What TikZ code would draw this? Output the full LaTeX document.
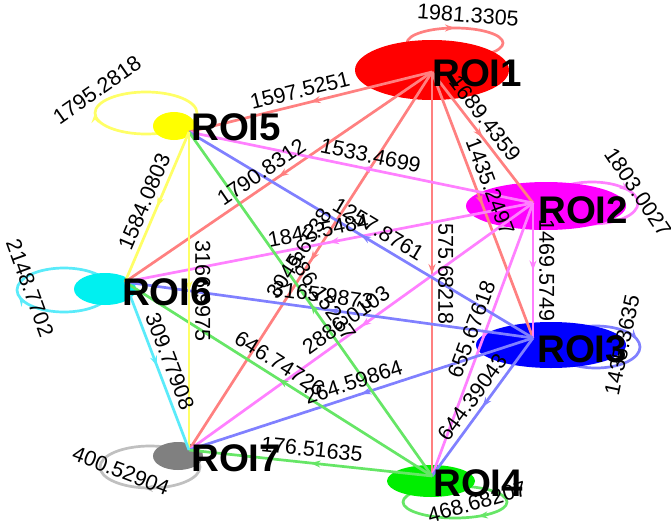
\documentclass[tikz,border=0pt]{standalone}
\usepackage{fontspec}
\setmainfont{Liberation Sans}
\usetikzlibrary{arrows.meta,decorations.markings,shapes.geometric}
\definecolor{nR}{RGB}{255,0,0}
\definecolor{nM}{RGB}{255,0,255}
\definecolor{nB}{RGB}{0,0,255}
\definecolor{nG}{RGB}{0,238,0}
\definecolor{nY}{RGB}{255,255,0}
\definecolor{nC}{RGB}{0,240,240}
\definecolor{nK}{RGB}{128,128,128}
\definecolor{eR}{RGB}{255,128,128}
\definecolor{eM}{RGB}{255,128,255}
\definecolor{eB}{RGB}{128,128,255}
\definecolor{eG}{RGB}{102,230,102}
\definecolor{eY}{RGB}{255,255,102}
\definecolor{eC}{RGB}{90,235,250}
\definecolor{eK}{RGB}{192,192,192}
\begin{document}
\begin{tikzpicture}[x=1pt,y=-1pt,
  edge/.style={draw=#1, line width=2.7pt, postaction={decorate},
    decoration={markings, mark=at position 0.5 with {\arrow{Stealth[length=10pt,width=7pt,color=#1]}}}},
  selfloop/.style 2 args={draw=#1, line width=2.7pt, postaction={decorate},
    decoration={markings, mark=at position #2 with {\arrow{Stealth[length=10pt,width=7pt,color=#1]}}}},
  blob/.style={ellipse, draw=none, fill=#1, inner sep=0pt},
  num/.style={font=\fontsize{21.5}{23}\selectfont, inner sep=1pt},
  elab/.style={num, sloped, above=5pt},
  roi/.style={font=\fontsize{38.5}{40}\selectfont\bfseries, anchor=west, inner sep=0pt}]
\fill[white] (0,0) rectangle (671,524);
\useasboundingbox (0,0) rectangle (671,524);
% self loops
\draw[selfloop={eR}{0.75}] (455,43) ellipse [x radius=48, y radius=15];
\draw[selfloop={eM}{0.93}] (592,203) ellipse [x radius=46, y radius=21];
\draw[selfloop={eB}{0.96}] (596,347) ellipse [x radius=44, y radius=21];
\draw[selfloop={eG}{0.15}] (455,502) ellipse [x radius=52, y radius=16];
\draw[selfloop={eY}{0.5}] (146,113) ellipse [x radius=51, y radius=21];
\draw[selfloop={eC}{0.47}] (64,290) ellipse [x radius=47, y radius=22];
\draw[selfloop={eK}{0.28}] (150,467) ellipse [x radius=50, y radius=21];
% node ellipses
\node[blob=nR, minimum width=154pt, minimum height=60pt] (e1) at (432,70) {};
\node[blob=nM, minimum width=160pt, minimum height=48pt] (e2) at (546,206) {};
\node[blob=nB, minimum width=150pt, minimum height=46pt] (e3) at (551,345) {};
\node[blob=nG, minimum width=88pt, minimum height=32pt] (e4) at (431,481) {};
\node[blob=nY, minimum width=42pt, minimum height=28pt] (e5) at (174,126) {};
\node[blob=nC, minimum width=62pt, minimum height=32pt] (e6) at (105,289) {};
\node[blob=nK, minimum width=50pt, minimum height=28pt] (e7) at (178,456) {};
% connection points
\coordinate (p1) at (432,72);
\coordinate (p2) at (533,203);
\coordinate (p3) at (533,338);
\coordinate (p4) at (432,476);
\coordinate (p5) at (189,132);
\coordinate (p6) at (125,282);
\coordinate (p7) at (189,450);
% edges
\foreach \s/\t/\c in {1/2/eR,1/3/eR,1/4/eR,1/5/eR,1/6/eR,1/7/eR,
  2/3/eM,2/4/eM,2/5/eM,2/6/eM,2/7/eM,
  3/4/eB,3/5/eB,3/6/eB,3/7/eB,
  4/5/eG,4/6/eG,4/7/eG,
  5/6/eY,5/7/eY,6/7/eC}
  {\draw[edge=\c] (p\s) -- (p\t);}
% edge labels
\foreach \s/\t/\p/\l in {
  1/2/0.42/1689.4359, 1/3/0.45/1435.2497, 1/5/0.53/1597.5251,
  1/6/0.53/1790.8312, 1/7/0.5/3045.6538,
  2/4/0.48/655.67618, 2/5/0.48/1533.4699, 2/6/0.52/1842.5484,
  2/7/0.52/2886.0103,
  3/4/0.49/644.39043, 3/5/0.47/1257.8761, 3/6/0.52/3165.9873,
  3/7/0.51/264.59864,
  4/5/0.5/886.15237, 4/6/0.52/646.74726, 4/7/0.5/176.51635,
  5/6/0.5/1584.0803, 6/7/0.5/309.77908}
  {\path (p\s) -- (p\t) node[elab, pos=\p] (l\s\t) {\l};}
\path (p1) -- (p4) node[elab, allow upside down, pos=0.5] (l14) {575.68218};
\path (p2) -- (p3) node[elab, allow upside down, pos=0.5] (l23) {1469.5749};
\path (p5) -- (p7) node[elab, allow upside down, pos=0.5] (l57) {3166.9975};
% self-loop labels
\node[num, rotate=-4] (s1) at (468,15) {1981.3305};
\node[num, rotate=-56] (s2) at (638,192) {1803.0027};
\node[num, rotate=78] (s3) at (622,345) {1435.3635};
\node[num, rotate=16] (s4) at (477,502) {468.68207};
\node[num, rotate=35] (s5) at (97,90) {1795.2818};
\node[num, rotate=-70] (s6) at (30,288) {2148.7702};
\node[num, rotate=-21] (s7) at (121,471) {400.52904};
% node labels
\node[roi] (t1) at (432,73) {ROI1};
\node[roi] (t2) at (538,210) {ROI2};
\node[roi] (t3) at (537,349) {ROI3};
\node[roi] (t4) at (433,483) {ROI4};
\node[roi] (t5) at (191,127) {ROI5};
\node[roi] (t6) at (122,292) {ROI6};
\node[roi] (t7) at (191,458) {ROI7};
\end{tikzpicture}
\end{document}
